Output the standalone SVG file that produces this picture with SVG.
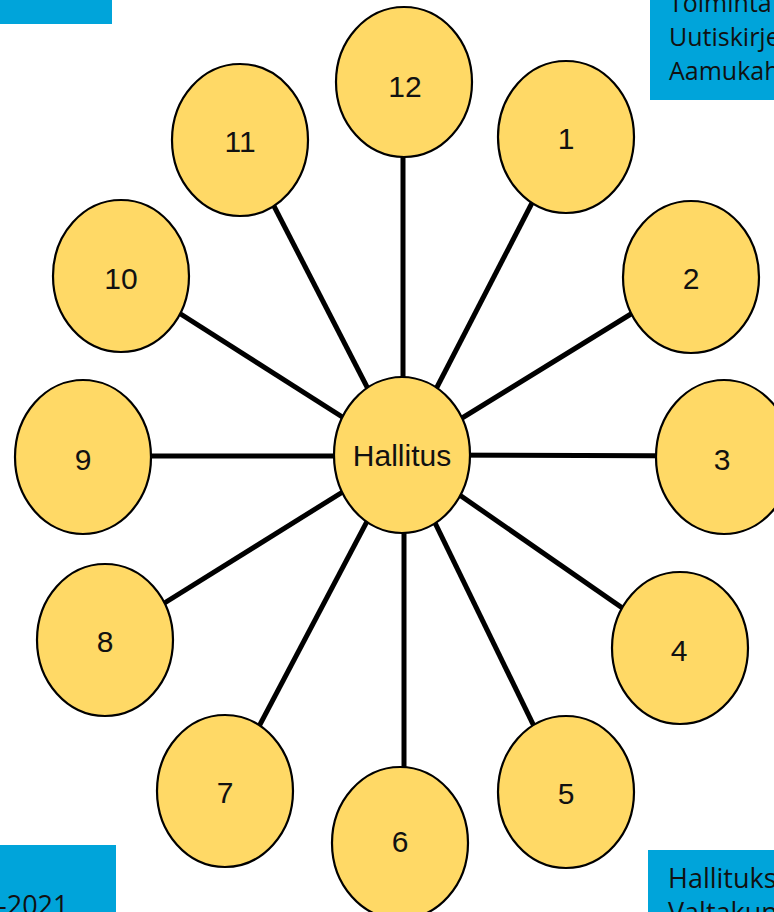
<svg xmlns="http://www.w3.org/2000/svg" width="774" height="912" viewBox="0 0 774 912">
<style>
.box{fill:#00A4DA}
.bt{font-family:"Open Sans","Noto Sans",sans-serif;font-size:27px;fill:#111}
.bt.s{font-size:25px}
.n ellipse{fill:#FFD966;stroke:#000;stroke-width:2.2}
.n text{font-family:"Liberation Sans",Arial,sans-serif;font-size:30px;fill:#111;text-anchor:middle}
.c line{stroke:#000;stroke-width:5}
</style>
<rect width="774" height="912" fill="#fff"/>
<g id="box-tl"><rect class="box" x="0" y="0" width="112" height="24"/></g>
<g id="box-tr"><rect class="box" x="650" y="0" width="124" height="100"/>
<text class="bt s" x="669" y="12">Toiminta</text>
<text class="bt s" x="669" y="46">Uutiskirje</text>
<text class="bt s" x="669" y="80">Aamukah</text></g>
<g id="box-bl"><rect class="box" x="0" y="845" width="116" height="67"/>
<text class="bt" x="-2" y="915">-2021</text></g>
<g id="box-br"><rect class="box" x="648" y="850" width="126" height="62"/>
<text class="bt" x="668" y="888">Hallituks</text>
<text class="bt" x="668" y="922">Valtakun</text></g>
<g id="connectors" class="c">
<line x1="403" y1="455" x2="403" y2="82"/>
<line x1="402" y1="455" x2="566" y2="137"/>
<line x1="402" y1="455" x2="691" y2="277"/>
<line x1="402" y1="455" x2="724" y2="456"/>
<line x1="402" y1="455" x2="680" y2="648"/>
<line x1="402" y1="455" x2="566" y2="792"/>
<line x1="404" y1="455" x2="404" y2="843"/>
<line x1="402" y1="455" x2="225" y2="791"/>
<line x1="402" y1="455" x2="105" y2="640"/>
<line x1="402" y1="456" x2="83" y2="456"/>
<line x1="402" y1="455" x2="121" y2="276"/>
<line x1="402" y1="455" x2="240" y2="140"/>
</g>
<g id="n12" class="n"><ellipse cx="404" cy="82" rx="68" ry="75"/><text x="405" y="97">12</text></g>
<g id="n1" class="n"><ellipse cx="566" cy="137" rx="68" ry="76"/><text x="566" y="149">1</text></g>
<g id="n2" class="n"><ellipse cx="691" cy="277" rx="68" ry="76"/><text x="691" y="289">2</text></g>
<g id="n3" class="n"><ellipse cx="724" cy="457" rx="68" ry="77"/><text x="722" y="470">3</text></g>
<g id="n4" class="n"><ellipse cx="680" cy="648" rx="68" ry="76"/><text x="679" y="661">4</text></g>
<g id="n5" class="n"><ellipse cx="566" cy="792" rx="68" ry="76"/><text x="566" y="804">5</text></g>
<g id="n6" class="n"><ellipse cx="400" cy="843" rx="68" ry="76"/><text x="400" y="852">6</text></g>
<g id="n7" class="n"><ellipse cx="225" cy="791" rx="68" ry="76"/><text x="225" y="803">7</text></g>
<g id="n8" class="n"><ellipse cx="105" cy="640" rx="68" ry="76"/><text x="105" y="652">8</text></g>
<g id="n9" class="n"><ellipse cx="83" cy="457" rx="68" ry="77"/><text x="83" y="470">9</text></g>
<g id="n10" class="n"><ellipse cx="121" cy="276" rx="68" ry="76"/><text x="121" y="289">10</text></g>
<g id="n11" class="n"><ellipse cx="240" cy="140" rx="68" ry="76"/><text x="240" y="152">11</text></g>
<g id="hallitus" class="n"><ellipse cx="402" cy="455" rx="68" ry="78"/><text x="402" y="466">Hallitus</text></g>
</svg>
